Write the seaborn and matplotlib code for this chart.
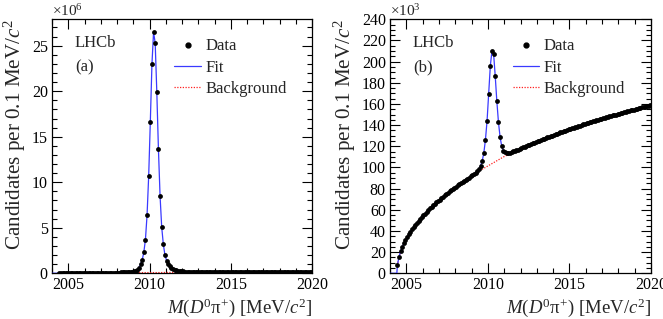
import numpy as np
import matplotlib
matplotlib.use("Agg")
import matplotlib.pyplot as plt
from matplotlib.ticker import MultipleLocator
from matplotlib.lines import Line2D
import seaborn as sns

# ---------------- data ----------------
# bin centres of M(D0 pi+) [MeV/c^2], 0.1 MeV bins
n_bins = 156
mass = np.round(2004.45 + 0.1 * np.arange(n_bins), 2)

# fit below the kinematic threshold
lead_mass = [2004.0, 2004.42]
lead_vals = [0.0, 0.0]

# panel (a), units of 10^6
data_a = [
    0.01, 0.01, 0.02, 0.02, 0.02, 0.02, 0.03, 0.03, 0.03, 0.03,
    0.03, 0.04, 0.04, 0.04, 0.04, 0.04, 0.04, 0.04, 0.05, 0.05,
    0.05, 0.05, 0.05, 0.05, 0.05, 0.06, 0.06, 0.06, 0.06, 0.07,
    0.07, 0.07, 0.07, 0.07, 0.08, 0.08, 0.08, 0.08, 0.09, 0.09,
    0.10, 0.11, 0.12, 0.13, 0.15, 0.17, 0.21, 0.27, 0.38, 0.60,
    0.98, 1.46, 2.30, 3.70, 6.40, 10.7, 16.6, 22.95, 26.5, 25.3,
    19.9, 13.6, 8.50, 5.10, 3.20, 2.00, 1.40, 1.00, 0.75, 0.58,
    0.46, 0.38, 0.32, 0.28, 0.25, 0.22, 0.20, 0.19, 0.18, 0.17,
    0.16, 0.15, 0.15, 0.14, 0.14, 0.14, 0.13, 0.13, 0.13, 0.13,
    0.13, 0.12, 0.12, 0.12, 0.12, 0.12, 0.12, 0.12, 0.12, 0.12,
    0.12, 0.12, 0.12, 0.12, 0.12, 0.12, 0.12, 0.12, 0.12, 0.12,
    0.12, 0.12, 0.12, 0.12, 0.12, 0.12, 0.12, 0.12, 0.12, 0.12,
    0.12, 0.12, 0.12, 0.12, 0.12, 0.12, 0.12, 0.12, 0.12, 0.12,
    0.13, 0.13, 0.13, 0.13, 0.13, 0.13, 0.13, 0.13, 0.13, 0.13,
    0.13, 0.13, 0.13, 0.13, 0.13, 0.13, 0.13, 0.13, 0.13, 0.13,
    0.13, 0.13, 0.13, 0.13, 0.13, 0.13,
]
bkg_a = [
    0.01, 0.01, 0.02, 0.02, 0.02, 0.02, 0.03, 0.03, 0.03, 0.03,
    0.03, 0.04, 0.04, 0.04, 0.04, 0.04, 0.04, 0.04, 0.05, 0.05,
    0.05, 0.05, 0.05, 0.05, 0.05, 0.05, 0.05, 0.06, 0.06, 0.06,
    0.06, 0.06, 0.06, 0.06, 0.06, 0.06, 0.06, 0.07, 0.07, 0.07,
    0.07, 0.07, 0.07, 0.07, 0.07, 0.07, 0.07, 0.07, 0.07, 0.07,
    0.08, 0.08, 0.08, 0.08, 0.08, 0.08, 0.08, 0.08, 0.08, 0.08,
    0.08, 0.08, 0.08, 0.08, 0.09, 0.09, 0.09, 0.09, 0.09, 0.09,
    0.09, 0.09, 0.09, 0.09, 0.09, 0.09, 0.09, 0.09, 0.09, 0.09,
    0.09, 0.10, 0.10, 0.10, 0.10, 0.10, 0.10, 0.10, 0.10, 0.10,
    0.10, 0.10, 0.10, 0.10, 0.10, 0.10, 0.10, 0.10, 0.10, 0.10,
    0.10, 0.10, 0.10, 0.11, 0.11, 0.11, 0.11, 0.11, 0.11, 0.11,
    0.11, 0.11, 0.11, 0.11, 0.11, 0.11, 0.11, 0.11, 0.11, 0.11,
    0.11, 0.11, 0.11, 0.11, 0.11, 0.11, 0.11, 0.11, 0.11, 0.11,
    0.12, 0.12, 0.12, 0.12, 0.12, 0.12, 0.12, 0.12, 0.12, 0.12,
    0.12, 0.12, 0.12, 0.12, 0.12, 0.12, 0.12, 0.12, 0.12, 0.12,
    0.12, 0.12, 0.12, 0.12, 0.12, 0.12,
]

# panel (b), units of 10^3
data_b = [
    7.4, 15.5, 20.6, 24.7, 28.2, 31.3, 34.1, 36.7, 39.2, 41.5,
    43.6, 45.7, 47.7, 49.6, 51.4, 53.2, 54.9, 56.5, 58.2, 59.7,
    61.3, 62.7, 64.2, 65.6, 67.0, 68.4, 69.7, 71.0, 72.3, 73.6,
    74.9, 76.1, 77.3, 78.5, 79.6, 80.8, 81.9, 83.0, 84.2, 85.2,
    86.3, 87.4, 88.5, 89.5, 90.5, 91.5, 92.5, 93.8, 95.0, 96.5,
    98.5, 101.5, 106.0, 113.5, 126.0, 144.0, 169.5, 196.0, 210.0, 207.5,
    186.5, 162.5, 142.5, 128.5, 120.0, 116.0, 114.2, 113.5, 113.6, 114.0,
    114.6, 115.1, 115.7, 116.3, 116.9, 117.5, 118.2, 118.9, 119.6, 120.2,
    120.9, 121.6, 122.2, 122.9, 123.5, 124.2, 124.8, 125.4, 126.0, 126.6,
    127.3, 127.9, 128.5, 129.1, 129.7, 130.2, 130.8, 131.4, 132.0, 132.5,
    133.1, 133.7, 134.2, 134.8, 135.3, 135.9, 136.4, 137.0, 137.5, 138.0,
    138.5, 139.0, 139.6, 140.1, 140.6, 141.1, 141.6, 142.1, 142.6, 143.1,
    143.5, 144.0, 144.5, 145.0, 145.5, 145.9, 146.4, 146.9, 147.3, 147.8,
    148.3, 148.7, 149.2, 149.6, 150.0, 150.5, 150.9, 151.3, 151.8, 152.2,
    152.6, 153.1, 153.5, 153.9, 154.3, 154.7, 155.1, 155.5, 155.9, 156.3,
    156.7, 157.1, 157.5, 157.9, 158.3, 158.7,
]
bkg_b = [
    7.4, 15.5, 20.6, 24.7, 28.2, 31.3, 34.1, 36.7, 39.2, 41.5,
    43.6, 45.7, 47.7, 49.6, 51.4, 53.2, 54.9, 56.5, 58.2, 59.7,
    61.3, 62.7, 64.2, 65.6, 67.0, 68.4, 69.7, 71.0, 72.3, 73.6,
    74.9, 76.1, 77.3, 78.5, 79.6, 80.8, 81.9, 83.0, 84.2, 85.2,
    86.3, 87.4, 88.5, 89.5, 90.5, 91.5, 92.5, 93.5, 94.5, 95.5,
    96.4, 97.4, 98.3, 99.3, 100.2, 101.1, 102.0, 102.9, 103.8, 104.7,
    105.6, 106.5, 107.3, 108.2, 109.0, 109.9, 110.7, 111.5, 112.4, 113.2,
    114.0, 114.7, 115.4, 116.1, 116.8, 117.5, 118.2, 118.9, 119.6, 120.2,
    120.9, 121.6, 122.2, 122.9, 123.5, 124.2, 124.8, 125.4, 126.0, 126.6,
    127.3, 127.9, 128.5, 129.1, 129.7, 130.2, 130.8, 131.4, 132.0, 132.5,
    133.1, 133.7, 134.2, 134.8, 135.3, 135.9, 136.4, 137.0, 137.5, 138.0,
    138.5, 139.0, 139.6, 140.1, 140.6, 141.1, 141.6, 142.1, 142.6, 143.1,
    143.5, 144.0, 144.5, 145.0, 145.5, 145.9, 146.4, 146.9, 147.3, 147.8,
    148.3, 148.7, 149.2, 149.6, 150.0, 150.5, 150.9, 151.3, 151.8, 152.2,
    152.6, 153.1, 153.5, 153.9, 154.3, 154.7, 155.1, 155.5, 155.9, 156.3,
    156.7, 157.1, 157.5, 157.9, 158.3, 158.7,
]

x_ticks = [2005, 2010, 2015, 2020]
legend_labels = ["Data", "Fit", "Background"]

# ---------------- style ----------------
sns.set_theme(style="ticks")
plt.rcParams["font.family"] = ["Liberation Serif", "DejaVu Serif"]
plt.rcParams["mathtext.fontset"] = "custom"
plt.rcParams["mathtext.rm"] = "Liberation Serif"
plt.rcParams["mathtext.it"] = "Liberation Serif:italic"
plt.rcParams["mathtext.bf"] = "Liberation Serif:bold"

FIT_COLOR = "#3a3aff"
BKG_COLOR = "#ff2020"

fig = plt.figure(figsize=(6.63, 3.19), dpi=100)
W, H = 663.0, 319.0
bottom = (H - 273.3) / H
height = 254.0 / H
ax_a = fig.add_axes([52 / W, bottom, 260 / W, height])
ax_b = fig.add_axes([390 / W, bottom, 261 / W, height])


def draw(ax, data, bkg, ymax, ymaj, ymin, exp_label, tag):
    fit_x = np.concatenate([lead_mass, mass])
    fit_y = np.concatenate([lead_vals, data])
    sns.lineplot(x=mass, y=bkg, ax=ax, color=BKG_COLOR, linewidth=0.9,
                 linestyle=(0, (1, 1.2)), sort=False, zorder=2)
    sns.lineplot(x=fit_x, y=fit_y, ax=ax, color=FIT_COLOR, linewidth=0.9,
                 sort=False, zorder=3)
    sns.scatterplot(x=mass, y=data, ax=ax, color="black", s=12,
                    linewidth=0, zorder=4)
    ax.set_xlim(2004, 2020)
    ax.set_ylim(0, ymax)
    ax.xaxis.set_major_locator(MultipleLocator(5))
    ax.xaxis.set_minor_locator(MultipleLocator(1))
    ax.yaxis.set_major_locator(MultipleLocator(ymaj))
    ax.yaxis.set_minor_locator(MultipleLocator(ymin))
    ax.set_xticks(x_ticks)
    ax.tick_params(which="both", direction="in", top=True, right=True,
                   labelsize=11.5, width=0.8, colors="black", pad=3)
    ax.tick_params(which="major", length=7)
    ax.tick_params(which="minor", length=3.5)
    for s in ax.spines.values():
        s.set_linewidth(0.9)
        s.set_color("black")
    ax.set_xlabel(r"$M(D^{0}\mathrm{\pi}^{+})$ [MeV/$c^{2}$]", fontsize=13.5,
                  loc="right", labelpad=2)
    ax.set_ylabel(r"Candidates per 0.1 MeV/$c^{2}$", fontsize=15.2,
                  loc="top", labelpad=3)
    ax.text(0.0, 1.012, exp_label, transform=ax.transAxes, fontsize=11,
            ha="left", va="baseline")
    ax.text(0.085, 0.905, "LHCb", transform=ax.transAxes, fontsize=12,
            ha="left", va="center")
    ax.text(0.09, 0.81, tag, transform=ax.transAxes, fontsize=12,
            ha="left", va="center")
    handles = [
        Line2D([], [], marker="o", linestyle="none", color="black",
               markersize=3.5),
        Line2D([], [], color=FIT_COLOR, linewidth=0.9),
        Line2D([], [], color=BKG_COLOR, linewidth=0.9,
               linestyle=(0, (1, 1.2))),
    ]
    ax.legend(handles, legend_labels, loc="upper left",
              bbox_to_anchor=(0.47, 0.925), frameon=False, fontsize=12,
              handlelength=1.6, handletextpad=0.25, labelspacing=0.32,
              borderpad=0, borderaxespad=0)


draw(ax_a, data_a, bkg_a, 27.9, 5, 1, r"$\times10^{6}$", "(a)")
draw(ax_b, data_b, bkg_b, 240, 20, 5, r"$\times10^{3}$", "(b)")

fig.savefig("out.png", dpi=100)
